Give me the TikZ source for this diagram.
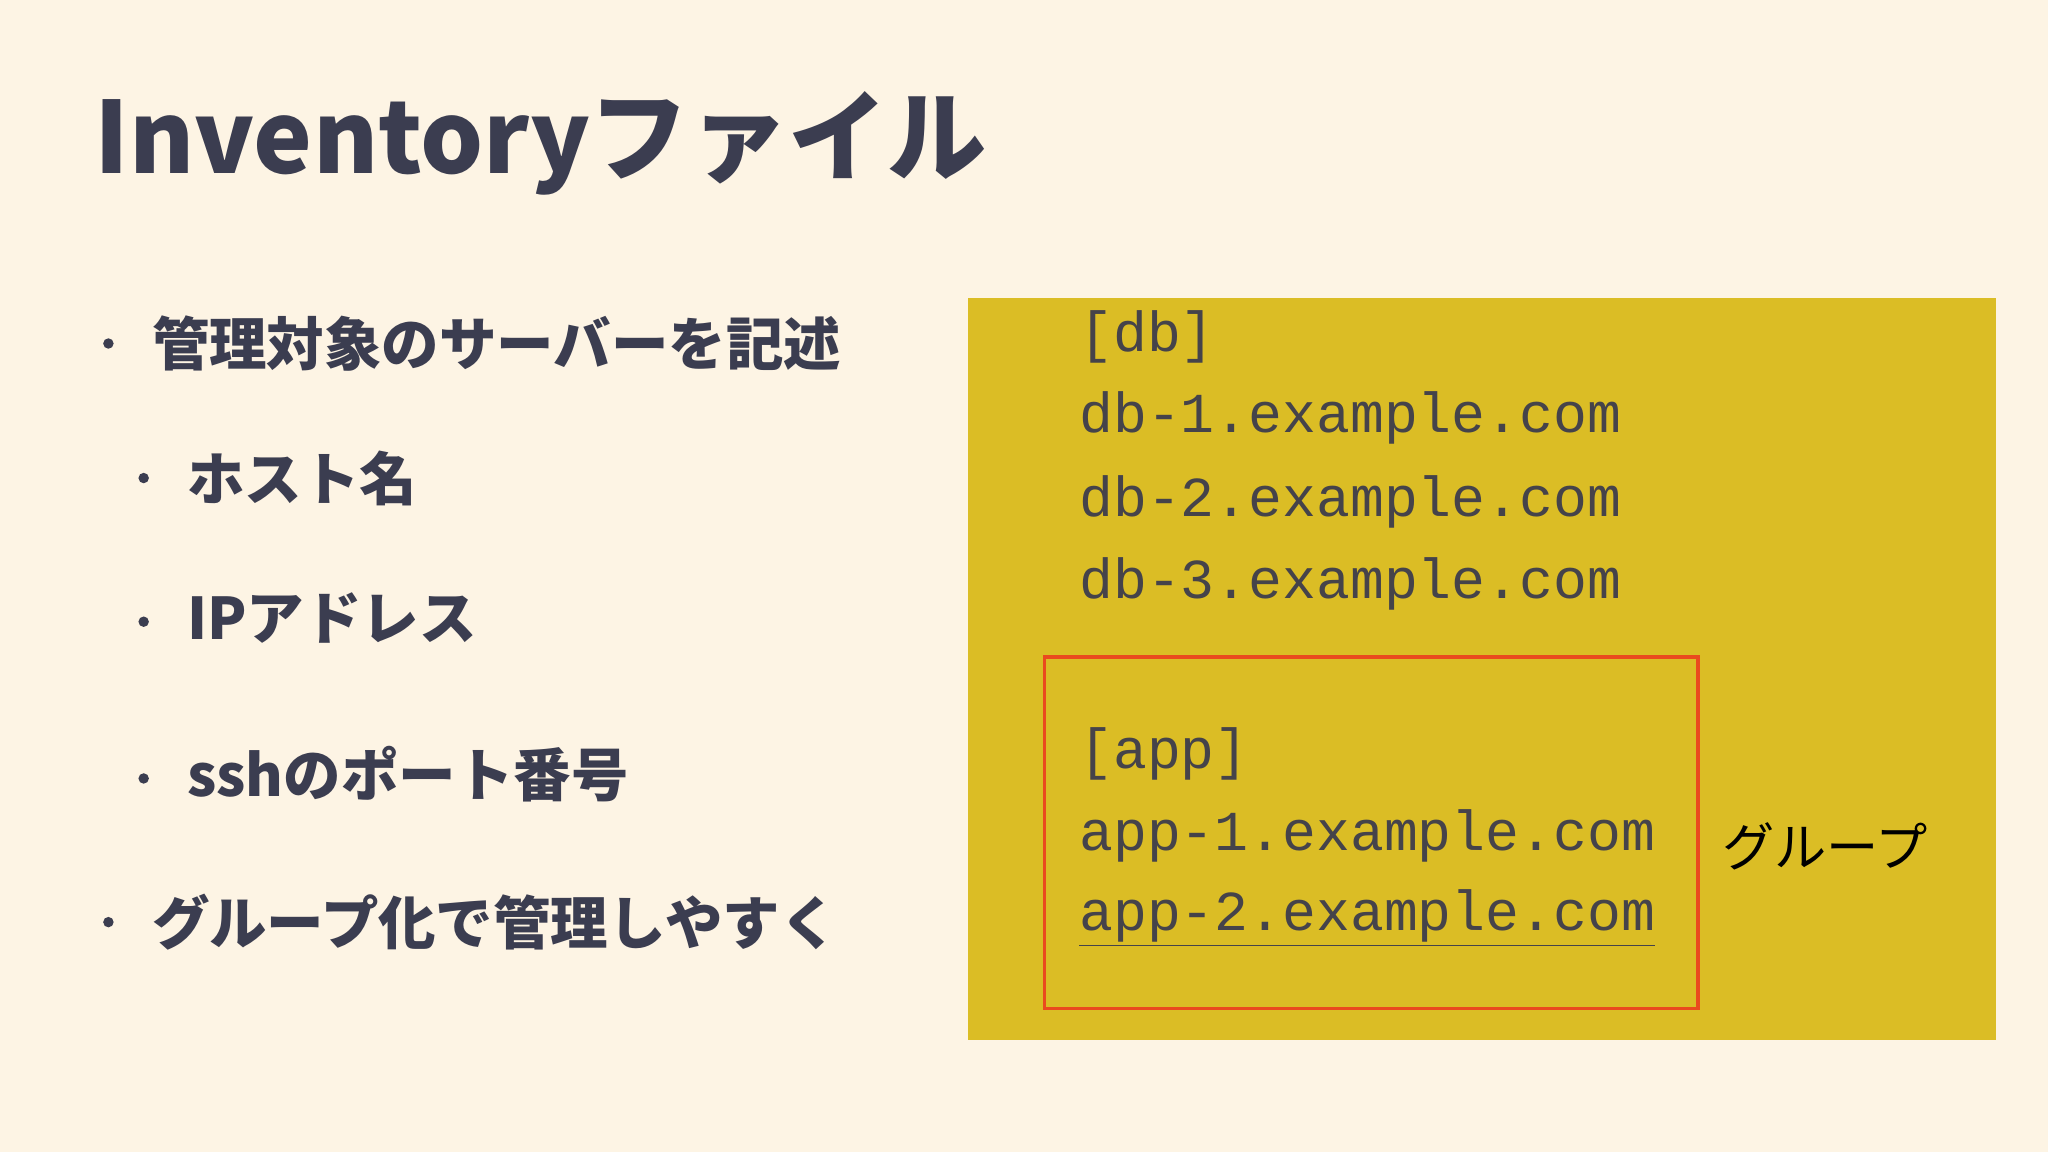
\documentclass[tikz,border=0pt]{standalone}
\usepackage{fontspec}
\setmainfont{Noto Sans CJK JP}
\newfontfamily\cjk{Noto Sans CJK JP}
\newfontfamily\monof{Liberation Mono}
\definecolor{bg}{HTML}{FDF4E4}
\definecolor{ybox}{HTML}{DBBD25}
\definecolor{rbox}{HTML}{EA4A1E}
\definecolor{ink}{HTML}{3B3D50}
\definecolor{mono}{HTML}{45434A}
\begin{document}
\begin{tikzpicture}[x=0.5pt,y=-0.5pt,
  bul/.style={anchor=west,inner sep=0,text=ink,font=\cjk\bfseries\fontsize{22}{26}\selectfont},
  dot/.style={circle,fill=ink,inner sep=0,minimum size=4pt},
  code/.style={anchor=west,inner sep=0,text=mono,font=\monof\fontsize{21.6}{26}\selectfont}]
\fill[bg] (0,0) rectangle (1568,882);
\useasboundingbox (0,0) rectangle (1568,882);
\node[anchor=west,inner sep=0,text=ink,font=\cjk\bfseries\fontsize{38}{44}\selectfont] (title) at (72,110) {Inventoryファイル};
\node[dot] (d1) at (83,263) {}; \node[bul] (b1) at (116,263) {管理対象のサーバーを記述};
\node[dot] (d2) at (110,366) {}; \node[bul] (b2) at (143,366) {ホスト名};
\node[dot] (d3) at (110,476) {}; \node[bul] (b3) at (143,473) {IPアドレス};
\node[dot] (d4) at (110,596) {}; \node[bul] (b4) at (143,593) {sshのポート番号};
\node[dot] (d5) at (83,706) {}; \node[bul] (b5) at (116,706) {グループ化で管理しやすく};
\fill[ybox] (741,228) rectangle (1528,796);
\draw[rbox,line width=1.2pt] (800,503) rectangle (1300,772);
\node[code] (c1) at (826,258) {[db]};
\node[code] (c2) at (826,320) {db-1.example.com};
\node[code] (c3) at (826,384) {db-2.example.com};
\node[code] (c4) at (826,447) {db-3.example.com};
\node[code] (c5) at (826,577) {[app]};
\node[code] (c6) at (826,640) {app-1.example.com};
\node[code] (c7) at (826,703) {\underline{app-2.example.com}};
\node[anchor=west,inner sep=0,font=\cjk\fontsize{20}{24}\selectfont] (g) at (1318,648) {グループ};
\end{tikzpicture}
\end{document}
